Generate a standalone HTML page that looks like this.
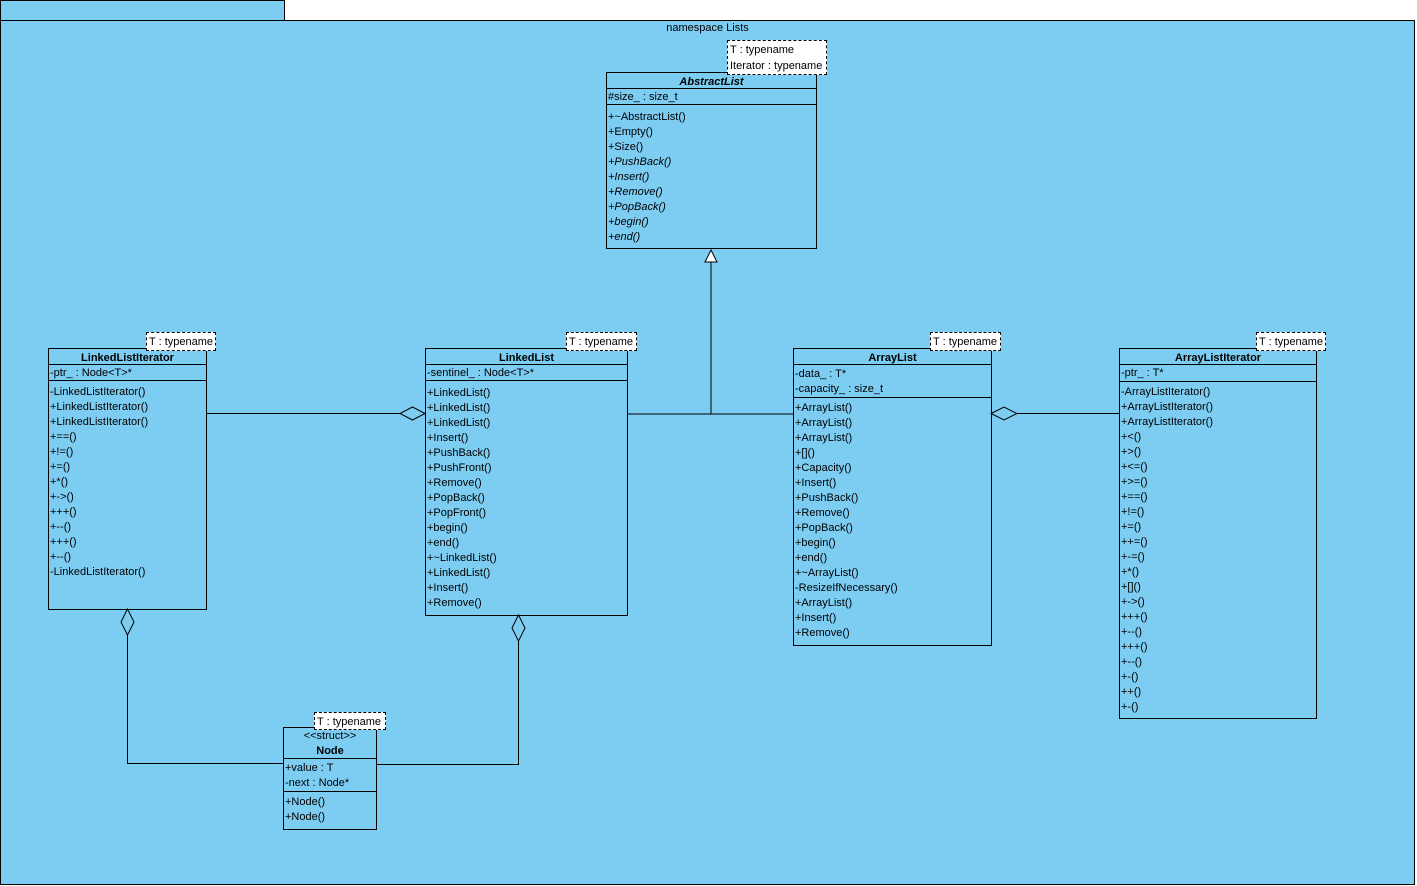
<!DOCTYPE html>
<html><head><meta charset="utf-8"><style>
body{margin:0;width:1417px;height:886px;background:#fff;position:relative;overflow:hidden;font-family:"Liberation Sans",Arial,sans-serif;font-size:11px;color:#000}
.a{position:absolute;box-sizing:border-box}
.c{position:absolute;box-sizing:border-box;border:1px solid #000;line-height:15px}
.n{text-align:center;font-weight:bold;height:16px;line-height:16px;padding-top:1px;border-bottom:1px solid #000;box-sizing:border-box}
.s{border-bottom:1px solid #000;box-sizing:border-box;padding-left:1px}
.o{padding-left:1px}
.t{position:absolute;background:#fff;border:1px dashed #000;line-height:16px;padding:1px 2px 0;box-sizing:border-box;white-space:nowrap}
i{font-style:italic}
</style></head><body>
<div class="a" style="left:0;top:0;width:285px;height:21px;background:#7dcdf3;border:1px solid #000"></div>
<div class="a" style="left:0;top:20px;width:1415px;height:865px;background:#7dcdf3;border:1px solid #000"></div>
<div class="a" style="left:0;top:21px;width:1415px;text-align:center;line-height:15px">namespace Lists</div>

<svg class="a" style="left:0;top:0" width="1417" height="886">
<g stroke="#000" stroke-width="1" fill="none">
<polyline points="711,262 711,414"/>
<polyline points="627,414 793,414"/>
<polygon points="711,250 705,262 717,262" fill="#fff"/>
<line x1="206" y1="413.5" x2="400" y2="413.5"/>
<polygon points="400,413.5 412.5,407 425,413.5 412.5,420" fill="#7dcdf3"/>
<line x1="1017" y1="413.5" x2="1119" y2="413.5"/>
<polygon points="991,413.5 1004,407 1017,413.5 1004,420" fill="#7dcdf3"/>
<polygon points="127.5,609 121,622 127.5,635 134,622" fill="#7dcdf3"/>
<polyline points="127.5,635 127.5,763.5 284,763.5"/>
<polygon points="518.5,615 512,628 518.5,641 525,628" fill="#7dcdf3"/>
<polyline points="518.5,641 518.5,764.5 376,764.5"/>
</g></svg>

<!-- AbstractList -->
<div class="c" style="left:606px;top:72px;width:211px;height:177px">
<div class="n"><i>AbstractList</i></div>
<div class="s" style="height:16px;padding-top:1px">#size_ : size_t</div>
<div class="o" style="padding-top:5px">+~AbstractList()<br>+Empty()<br>+Size()<br><i>+PushBack()</i><br><i>+Insert()</i><br><i>+Remove()</i><br><i>+PopBack()</i><br><i>+begin()</i><br><i>+end()</i></div>
</div>
<div class="t" style="left:727px;top:40px;width:100px;height:35px">T : typename<br>Iterator : typename</div>

<!-- LinkedListIterator -->
<div class="c" style="left:48px;top:348px;width:159px;height:262px">
<div class="n">LinkedListIterator</div>
<div class="s" style="height:16px;padding-top:1px">-ptr_ : Node&lt;T&gt;*</div>
<div class="o" style="padding-top:4px">-LinkedListIterator()<br>+LinkedListIterator()<br>+LinkedListIterator()<br>+==()<br>+!=()<br>+=()<br>+*()<br>+-&gt;()<br>+++()<br>+--()<br>+++()<br>+--()<br>-LinkedListIterator()</div>
</div>
<div class="t" style="left:146px;top:332px;width:70px;height:19px">T : typename</div>

<!-- LinkedList -->
<div class="c" style="left:425px;top:348px;width:203px;height:268px">
<div class="n">LinkedList</div>
<div class="s" style="height:16px;padding-top:1px">-sentinel_ : Node&lt;T&gt;*</div>
<div class="o" style="padding-top:5px">+LinkedList()<br>+LinkedList()<br>+LinkedList()<br>+Insert()<br>+PushBack()<br>+PushFront()<br>+Remove()<br>+PopBack()<br>+PopFront()<br>+begin()<br>+end()<br>+~LinkedList()<br>+LinkedList()<br>+Insert()<br>+Remove()</div>
</div>
<div class="t" style="left:566px;top:332px;width:71px;height:19px">T : typename</div>

<!-- ArrayList -->
<div class="c" style="left:793px;top:348px;width:199px;height:298px">
<div class="n">ArrayList</div>
<div class="s" style="height:33px;padding-top:2px">-data_ : T*<br>-capacity_ : size_t</div>
<div class="o" style="padding-top:3px">+ArrayList()<br>+ArrayList()<br>+ArrayList()<br>+[]()<br>+Capacity()<br>+Insert()<br>+PushBack()<br>+Remove()<br>+PopBack()<br>+begin()<br>+end()<br>+~ArrayList()<br>-ResizeIfNecessary()<br>+ArrayList()<br>+Insert()<br>+Remove()</div>
</div>
<div class="t" style="left:930px;top:332px;width:71px;height:19px">T : typename</div>

<!-- ArrayListIterator -->
<div class="c" style="left:1119px;top:348px;width:198px;height:371px">
<div class="n">ArrayListIterator</div>
<div class="s" style="height:17px;padding-top:1px">-ptr_ : T*</div>
<div class="o" style="padding-top:3px">-ArrayListIterator()<br>+ArrayListIterator()<br>+ArrayListIterator()<br>+&lt;()<br>+&gt;()<br>+&lt;=()<br>+&gt;=()<br>+==()<br>+!=()<br>+=()<br>++=()<br>+-=()<br>+*()<br>+[]()<br>+-&gt;()<br>+++()<br>+--()<br>+++()<br>+--()<br>+-()<br>++()<br>+-()</div>
</div>
<div class="t" style="left:1256px;top:332px;width:70px;height:19px">T : typename</div>

<!-- Node -->
<div class="c" style="left:283px;top:727px;width:94px;height:103px">
<div style="text-align:center;height:31px;line-height:15px;padding-top:1px;border-bottom:1px solid #000;box-sizing:border-box">&lt;&lt;struct&gt;&gt;<br><b>Node</b></div>
<div class="s" style="height:33px;padding-top:2px">+value : T<br>-next : Node*</div>
<div class="o" style="padding-top:3px">+Node()<br>+Node()</div>
</div>
<div class="t" style="left:314px;top:712px;width:72px;height:18px">T : typename</div>
</body></html>
